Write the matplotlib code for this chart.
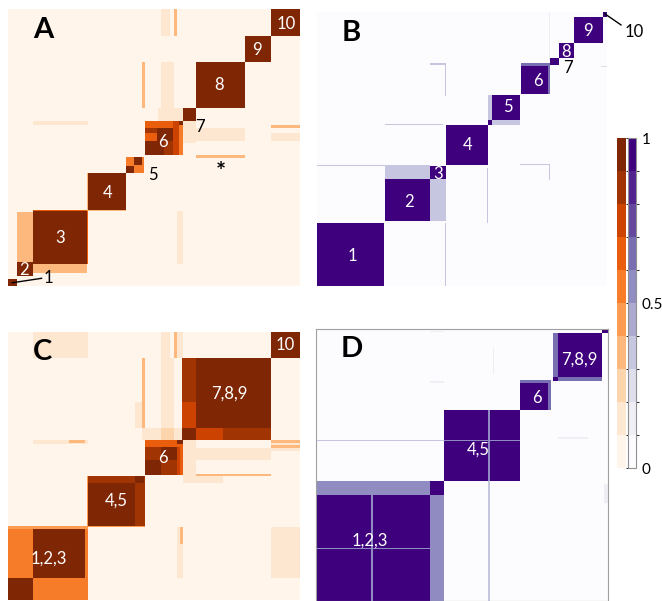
import numpy as np
import matplotlib
matplotlib.use("Agg")
from matplotlib import pyplot as plt
from matplotlib.colors import ListedColormap, BoundaryNorm
from matplotlib.cm import ScalarMappable

plt.rcParams['font.family'] = ['Lato', 'DejaVu Sans']

# matrix blocks: (x0, x1, y0, y1, value) in matrix units 0..100, later ones on top
blocks_a = [
    (52.4, 55.3, 90, 100, 0.15), (56.8, 57.8, 90, 100, 0.35),
    (46.1, 46.9, 64, 80.6, 0.35), (52.4, 56.8, 59.7, 80.6, 0.15),
    (51.5, 59.8, 59.7, 64.1, 0.15), (8.3, 27.5, 57.8, 59.7, 0.15),
    (59.8, 64.4, 51.5, 59.7, 0.15), (64.4, 80.9, 52, 57, 0.15),
    (64.4, 80.9, 46, 47, 0.35), (90, 100, 57, 58, 0.35),
    (90, 100, 52, 55, 0.15), (57.8, 59.8, 8.2, 27.2, 0.15),
    (2.9, 8.3, 8.2, 26.5, 0.35), (8.3, 27, 4.6, 8.2, 0.35),
    (8.3, 27.5, 8.2, 27.4, 0.65), (8.3, 26.8, 8.2, 26.8, 0.95),
    (0, 2.9, 0, 2.5, 0.95), (2.9, 8.3, 3.4, 8.3, 0.95),
    (26.8, 40.4, 26.8, 40.4, 0.35), (27.5, 40.4, 27.4, 40.4, 0.95),
    (40.4, 46.6, 40.4, 46.7, 0.55), (40.4, 43, 40.4, 43, 0.95),
    (43.2, 45.8, 43.7, 46.4, 0.95),
    (46.9, 60, 46.9, 59.6, 0.55), (46.9, 56.6, 57, 59.6, 0.65),
    (46.9, 50.9, 55.1, 57, 0.8), (50.9, 56.6, 46.9, 57, 0.95),
    (46.9, 50.9, 52.1, 55.1, 0.7), (46.9, 50.9, 46.9, 52.1, 0.95),
    (53.5, 56.6, 46.9, 52, 0.85), (56.6, 58.3, 46.9, 59.6, 0.75),
    (58.3, 60, 57.8, 59.6, 0.95),
    (59.8, 64.4, 59.7, 64.1, 0.95), (64.4, 80.9, 64.1, 80.6, 0.95),
    (80.9, 90, 80.6, 89.8, 0.95), (90, 100, 89.8, 100, 0.95),
]

blocks_b = [
    (0, 39, 43.5, 44, 0.35), (44, 44.5, 0, 23, 0.35),
    (58.7, 59.2, 23, 43, 0.35), (23.5, 43.7, 58.5, 59, 0.35),
    (44, 44.5, 69, 80.5, 0.35), (39, 44.5, 80.5, 81, 0.35),
    (70, 80, 44, 44.5, 0.35), (80, 80.5, 38.5, 44.5, 0.35),
    (80, 80.5, 82, 100, 0.15), (98, 100, 79.5, 80, 0.25),
    (0, 23.2, 0, 23.1, 0.95),
    (23.6, 44.3, 23.5, 43.5, 0.35), (23.6, 39.1, 23.5, 38.9, 0.95),
    (39.1, 44.3, 38.9, 43.5, 0.95),
    (44.3, 58.9, 44.1, 58.7, 0.95),
    (58.9, 70.1, 58.7, 69.6, 0.35), (60.7, 70.1, 60.3, 69.6, 0.95),
    (58.9, 60.7, 58.7, 60.3, 0.95),
    (70.3, 80.4, 70, 81, 0.65), (70.3, 79.6, 70, 79.8, 0.95),
    (80.4, 83.3, 80.6, 83, 0.95), (83.3, 88.5, 83, 88.5, 0.95),
    (88.5, 98.6, 88.5, 97.9, 0.95), (98.6, 100, 97.9, 100, 0.95),
]

blocks_c = [
    (8.3, 27.5, 89.8, 100, 0.15), (52.4, 55.3, 89.8, 100, 0.15),
    (56.8, 59.8, 89.8, 100, 0.15), (57.2, 58, 89.8, 100, 0.35),
    (46.1, 46.9, 64, 89.8, 0.35), (43.5, 46.1, 64, 73.3, 0.15),
    (52.4, 56.8, 59.6, 89.8, 0.15), (46.1, 59.8, 59.6, 64, 0.15),
    (52.4, 56.8, 59.6, 64, 0.25), (8.3, 27.5, 57.8, 59.6, 0.15),
    (21.2, 26.7, 58.5, 59.3, 0.35), (59.8, 64.6, 43.5, 59.6, 0.15),
    (64.6, 90, 52, 56.5, 0.15), (64.6, 90, 46, 47, 0.35),
    (64.6, 73.3, 43.5, 46, 0.15), (90, 100, 55.3, 59.6, 0.15),
    (90, 100, 58.5, 59.3, 0.35), (90, 100, 56.5, 57.3, 0.35),
    (90, 100, 8, 27, 0.15), (58, 59.8, 8, 27, 0.15), (59, 59.8, 21, 27, 0.35),
    (0, 27.5, 0, 27.3, 0.6), (0, 27.5, 26.6, 27.3, 0.45),
    (0, 8.3, 0, 7.8, 0.95), (8.3, 26.7, 7.8, 26.6, 0.95),
    (27, 47.2, 26.9, 46.2, 0.45), (27.5, 46.9, 27.3, 46.2, 0.85),
    (27.5, 43.5, 27.3, 43.6, 0.95), (43.5, 46.3, 43.6, 46.2, 0.95),
    (46.9, 60, 46.6, 59.7, 0.65), (46.9, 52.6, 52.2, 57.2, 0.85),
    (52.6, 57.8, 52.2, 57.2, 0.95), (46.9, 52.6, 46.6, 52.2, 0.95),
    (52.6, 57.8, 46.6, 52.2, 0.85), (57.8, 59, 46.6, 57.2, 0.75),
    (57.8, 60, 57.8, 59.7, 0.95),
    (59.5, 90, 59.7, 90.2, 0.85), (64.3, 90, 64.1, 90.2, 0.95),
    (59.5, 64.3, 64.1, 73.4, 0.75), (59.5, 64.3, 59.7, 64.1, 0.95),
    (64.3, 73.7, 59.7, 64.1, 0.75),
    (90, 100, 89.8, 100, 0.95),
]

blocks_d = [
    (83, 93, 59.4, 60, 0.15), (60.3, 60.8, 83, 93, 0.1),
    (39, 44, 80, 80.5, 0.15), (39, 44, 98.3, 98.8, 0.15),
    (98.5, 100, 36, 43, 0.1),
    (59, 59.5, 0, 69.9, 0.35), (0, 69.9, 58.5, 59, 0.35),
    (0, 44.1, 0, 44.2, 0.55), (0, 38.9, 0, 39, 0.95),
    (38.9, 44.1, 39, 44.2, 0.95),
    (19, 19.5, 0, 44.2, 0.6), (0, 44.1, 19, 19.5, 0.6),
    (44.1, 69.9, 44.2, 69.9, 0.95),
    (59, 59.5, 44.2, 69.9, 0.6), (44.1, 69.9, 58.5, 59, 0.6),
    (70.1, 80.6, 69.9, 81, 0.65), (70.1, 79.7, 69.9, 79.9, 0.95),
    (81, 98.2, 80.5, 98, 0.65), (83, 98.2, 82, 98, 0.95),
    (81, 83, 80.5, 82, 0.95), (98.2, 100, 98, 100, 0.95),
]

# labels: (x, y, text, colour)
labels_a = [(13.7, 2.9, '1', 'k'), (5.6, 5.8, '2', 'w'),
            (17.8, 17.3, '3', 'w'), (34, 33.6, '4', 'w'), (49.7, 40, '5', 'k'),
            (53, 52, '6', 'w'), (65.8, 57.4, '7', 'k'), (72.3, 72.6, '8', 'w'),
            (85.2, 85.2, '9', 'w'), (95.2, 94.6, '10', 'w'), (73, 41, '*', 'k')]
labels_b = [(12.3, 10.9, '1', 'w'), (31.7, 30.8, '2', 'w'), (41.6, 40.9, '3', 'w'),
            (51.8, 51.5, '4', 'w'), (65.7, 65.2, '5', 'w'), (76.1, 74.9, '6', 'w'),
            (86.5, 79.4, '7', 'k'), (85.9, 85.5, '8', 'w'), (93.3, 93.2, '9', 'w'),
            (109.5, 92.7, '10', 'k')]
labels_c = [(14.1, 15.5, '1,2,3', 'w'), (37.2, 36.9, '4,5', 'w'), (53, 52.9, '6', 'w'),
            (75.8, 77.1, '7,8,9', 'w'), (95.1, 94.9, '10', 'w')]
labels_d = [(18.5, 22, '1,2,3', 'w'), (55.6, 55.5, '4,5', 'w'), (75.6, 74.5, '6', 'w'),
            (90.2, 88.6, '7,8,9', 'w')]

bounds = np.linspace(0, 1, 11)
cb_ticks = [0, 0.5, 1]
res = 2


def build(blocks):
    m = np.full((100 * res, 100 * res), 0.02)
    for x0, x1, y0, y1, v in blocks:
        m[int(round(y0 * res)):int(round(y1 * res)), int(round(x0 * res)):int(round(x1 * res))] = v
    return m


oranges = ListedColormap(plt.get_cmap('Oranges')(np.linspace(0, 1, 10)))
purples = ListedColormap(plt.get_cmap('Purples')(np.linspace(0, 1, 10)))
norm = BoundaryNorm(bounds, 10)

fig = plt.figure(figsize=(6.62, 6.01), dpi=100)
pos = {'A': [0.012, 0.524, 0.441, 0.461], 'B': [0.479, 0.524, 0.438, 0.456],
       'C': [0.012, 0.002, 0.441, 0.446], 'D': [0.477, 0.0, 0.441, 0.453]}
panels = [('A', blocks_a, labels_a, oranges), ('B', blocks_b, labels_b, purples),
          ('C', blocks_c, labels_c, oranges), ('D', blocks_d, labels_d, purples)]

for name, blocks, labels, cmap in panels:
    ax = fig.add_axes(pos[name])
    ax.imshow(build(blocks), cmap=cmap, norm=norm, origin='lower',
              extent=(0, 100, 0, 100), aspect='auto', interpolation='nearest',
              interpolation_stage='rgba')
    ax.set_xlim(0, 100)
    ax.set_ylim(0, 100)
    ax.set_xticks([])
    ax.set_yticks([])
    for s in ax.spines.values():
        s.set_visible(name == 'D')
        s.set_color('#a0a0a0')
    ax.text(8.5, 92.5, name, fontsize=21, fontweight='bold', ha='left', va='center')
    for x, y, t, c in labels:
        ax.text(x, y, t, color=c, fontsize=12 if t != '*' else 17,
                fontweight='bold' if t == '*' else 'normal',
                ha='center', va='center', clip_on=False)
    if name == 'A':
        ax.plot([1.5, 11.5], [1.2, 2.8], color='k', lw=1)
    if name == 'B':
        ax.plot([99.3, 104.8], [99.3, 95.3], color='k', lw=1, clip_on=False)

cax1 = fig.add_axes([0.932, 0.221, 0.0136, 0.549])
cax2 = fig.add_axes([0.9486, 0.221, 0.0121, 0.549])
cb1 = fig.colorbar(ScalarMappable(norm=norm, cmap=oranges), cax=cax1)
cb1.set_ticks([])
cb1.outline.set_visible(False)
cb2 = fig.colorbar(ScalarMappable(norm=norm, cmap=purples), cax=cax2)
cb2.set_ticks(cb_ticks)
cb2.set_ticklabels(['0', '0.5', '1'])
cb2.ax.tick_params(labelsize=11, length=0, pad=4)
cb2.outline.set_edgecolor('#909090')
cb2.outline.set_linewidth(0.8)

fig.savefig('out.png', dpi=100)
